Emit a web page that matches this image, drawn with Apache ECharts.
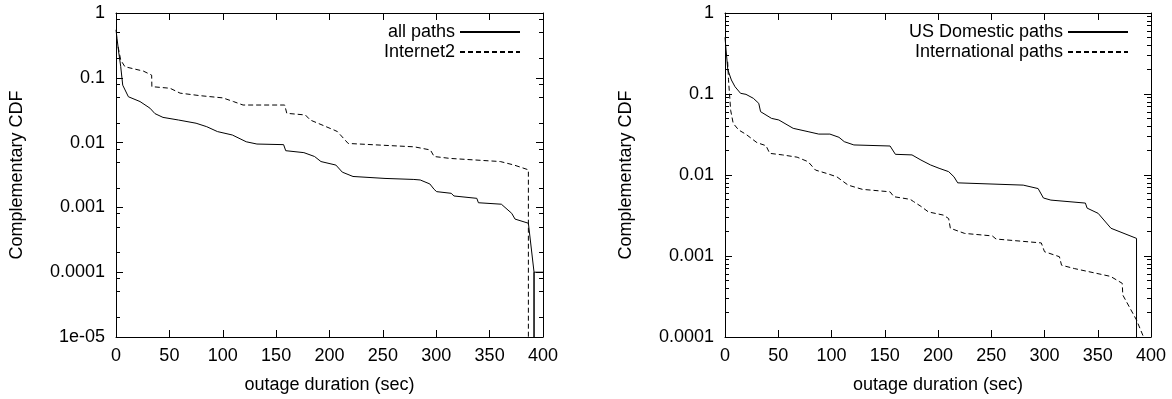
<!DOCTYPE html>
<html>
<head>
<meta charset="utf-8">
<script src="https://cdn.jsdelivr.net/npm/echarts@6/dist/echarts.min.js"></script>
<style>
html,body{margin:0;padding:0;background:#fff;}
#chart{width:1172px;height:399px;}
</style>
</head>
<body>
<div id="chart"></div>
<script>
// ---- Data ----
const xTicks = [0, 50, 100, 150, 200, 250, 300, 350, 400];

const leftYTickValues = [1e-5, 1e-4, 1e-3, 0.01, 0.1, 1];
const leftYTickLabels = ['1e-05', '0.0001', '0.001', '0.01', '0.1', '1'];
const rightYTickValues = [1e-4, 1e-3, 0.01, 0.1, 1];
const rightYTickLabels = ['0.0001', '0.001', '0.01', '0.1', '1'];
const leftMinorMultipliers = [2, 5, 8];
const rightMinorMultipliers = [2, 3, 4, 5, 6, 7, 8, 9];

const allPaths = [[0,0.55],[1,0.4],[2.5,0.25],[4.4,0.15],[6.3,0.077],[11.6,0.051],[22.5,0.043],[31.8,0.034],[36.5,0.028],[44,0.0245],[58.6,0.0223],[75,0.0199],[85,0.0176],[95,0.0148],[109,0.0131],[122,0.0103],[132,0.0095],[157,0.0093],[159,0.0075],[176,0.0070],[186,0.0061],[192,0.0051],[206,0.0045],[212,0.0035],[222,0.0030],[252,0.0028],[279,0.0027],[285,0.00265],[294,0.0023],[298,0.0019],[300.4,0.00175],[314,0.00165],[316.6,0.0015],[338,0.00138],[339.5,0.00118],[361,0.00112],[370.7,0.00081],[373.8,0.00066],[386.3,0.00057],[391.6,0.0001],[391.6,1e-6],[391.6,0.0001],[400,0.0001]];

const internet2 = [[2,0.3],[4.4,0.188],[8.4,0.148],[25.6,0.127],[33.4,0.110],[33.6,0.073],[50.6,0.069],[60,0.058],[78.7,0.053],[100,0.049],[110,0.043],[119,0.038],[158,0.038],[160,0.0283],[177.4,0.0267],[182,0.0223],[204,0.0157],[207.4,0.0148],[217.5,0.0097],[279.5,0.0086],[294.5,0.0077],[298,0.0061],[313,0.0057],[360,0.0051],[373,0.0045],[386.3,0.0038],[386.3,1e-6]];

const usDomestic = [[0,0.5],[1,0.35],[2.6,0.2],[6,0.149],[9.4,0.123],[14.6,0.102],[19.7,0.099],[26.6,0.0885],[31.7,0.0767],[33.4,0.0605],[43.7,0.050],[50.5,0.0478],[64,0.0377],[78,0.0343],[88,0.032],[98.5,0.032],[107,0.0292],[112,0.0258],[121,0.0235],[155,0.0228],[160,0.018],[175.6,0.0177],[184,0.0153],[193,0.0133],[201,0.0121],[210,0.011],[215,0.0095],[218.5,0.008],[280,0.0075],[294,0.0068],[299,0.0052],[306,0.0049],[338.4,0.0045],[340,0.0039],[350.4,0.00336],[362.4,0.0022],[386.4,0.00165],[386.4,1e-6]];

const international = [[2.5,0.25],[3.3,0.15],[5.3,0.063],[7.7,0.0434],[12.8,0.036],[19.7,0.0318],[30,0.0251],[38.5,0.023],[42,0.0185],[54,0.0177],[67.7,0.0166],[78,0.0146],[85,0.0115],[95,0.0105],[105,0.0095],[115.6,0.0075],[129,0.00665],[155,0.0062],[158.5,0.0054],[174,0.0050],[177,0.0047],[184,0.0041],[191,0.0035],[205,0.0032],[210,0.0029],[211.6,0.0022],[225,0.0019],[251,0.00177],[254.5,0.00162],[297,0.00145],[300,0.00113],[314,0.00098],[316,0.00077],[328,0.0007],[362,0.00056],[373,0.00046],[373.5,0.00033],[386.4,0.000162],[393,0.0001],[396,0.00008]];

// ---- Helpers ----
const FONT = "'Liberation Sans', Arial, Helvetica, sans-serif";
const BLACK = '#000';

function minorExps(minExp, mults) {
  const out = [];
  for (let e = minExp; e < 0; e++) {
    mults.forEach(m => out.push(Math.log10(m * Math.pow(10, e))));
  }
  return out;
}
function logLabel(values, labels) {
  return function (v) {
    let best = 0, bd = Infinity;
    values.forEach((t, i) => {
      const d = Math.abs(Math.log10(t) - Math.log10(v));
      if (d < bd) { bd = d; best = i; }
    });
    return bd < 0.01 ? labels[best] : '';
  };
}

const axisLine = { show: true, onZero: false, lineStyle: { color: BLACK, width: 1 } };
const noLine = { show: false, onZero: false };

function xAxesFor(g) {
  return [
    { type: 'value', gridIndex: g, min: xTicks[0], max: xTicks[xTicks.length - 1], interval: 50, position: 'bottom',
      axisLine, axisTick: { inside: true, length: 7, lineStyle: { color: BLACK } },
      axisLabel: { fontSize: 18, color: BLACK, margin: 10, fontFamily: FONT },
      splitLine: { show: false },
      name: 'outage duration (sec)', nameLocation: 'middle', nameGap: 39,
      nameTextStyle: { fontSize: 18, color: BLACK, fontFamily: FONT } },
    { type: 'value', gridIndex: g, min: xTicks[0], max: xTicks[xTicks.length - 1], interval: 50, position: 'top',
      axisLine, axisTick: { inside: true, length: 7, lineStyle: { color: BLACK } },
      axisLabel: { show: false }, splitLine: { show: false } }
  ];
}
function yAxesFor(g, vals, labels, mults) {
  const minV = vals[0], maxV = vals[vals.length - 1];
  const minE = Math.round(Math.log10(minV));
  const minors = minorExps(minE, mults);
  return [
    { type: 'log', logBase: 10, gridIndex: g, min: minV, max: maxV, splitNumber: vals.length - 1, position: 'left',
      axisLine, axisTick: { inside: true, length: 7, lineStyle: { color: BLACK } },
      axisLabel: { fontSize: 18, color: BLACK, margin: 11, fontFamily: FONT, formatter: logLabel(vals, labels) },
      splitLine: { show: false }, minorTick: { show: false },
      name: 'Complementary CDF', nameLocation: 'middle', nameGap: 90, nameRotate: 90,
      nameTextStyle: { fontSize: 18, color: BLACK, fontFamily: FONT } },
    { type: 'log', logBase: 10, gridIndex: g, min: minV, max: maxV, splitNumber: vals.length - 1, position: 'right',
      axisLine, axisTick: { inside: true, length: 7, lineStyle: { color: BLACK } },
      axisLabel: { show: false }, splitLine: { show: false }, minorTick: { show: false } },
    { type: 'value', gridIndex: g, min: minE, max: 0, position: 'left',
      axisLine: noLine, axisTick: { inside: true, length: 4, customValues: minors, lineStyle: { color: BLACK } },
      axisLabel: { show: false }, splitLine: { show: false } },
    { type: 'value', gridIndex: g, min: minE, max: 0, position: 'right',
      axisLine: noLine, axisTick: { inside: true, length: 4, customValues: minors, lineStyle: { color: BLACK } },
      axisLabel: { show: false }, splitLine: { show: false } }
  ];
}
function lineSeries(name, data, xi, yi, dashed) {
  return { name, type: 'line', data, xAxisIndex: xi, yAxisIndex: yi, symbol: 'none', showSymbol: false,
    clip: true, animation: false, silent: true,
    lineStyle: { color: BLACK, width: 1, type: dashed ? [5, 3] : 'solid' },
    itemStyle: { color: BLACK } };
}
function legendFor(names, right) {
  return { data: names, orient: 'vertical', right, top: 22, align: 'right', padding: 0,
    itemWidth: 60, itemHeight: 14, itemGap: 0, selectedMode: false,
    itemStyle: { opacity: 0, color: 'rgba(0,0,0,0)', borderWidth: 0 },
    textStyle: { fontSize: 18, lineHeight: 20, color: BLACK, fontFamily: FONT } };
}

const chart = echarts.init(document.getElementById('chart'), null, { renderer: 'canvas' });
chart.setOption({
  animation: false,
  backgroundColor: '#fff',
  textStyle: { fontFamily: FONT, color: BLACK },
  grid: [
    { left: 116, top: 13, width: 427, height: 324, containLabel: false, outerBoundsMode: 'none' },
    { left: 725, top: 13, width: 426, height: 324, containLabel: false, outerBoundsMode: 'none' }
  ],
  xAxis: [...xAxesFor(0), ...xAxesFor(1)],
  yAxis: [
    ...yAxesFor(0, leftYTickValues, leftYTickLabels, leftMinorMultipliers),
    ...yAxesFor(1, rightYTickValues, rightYTickLabels, rightMinorMultipliers)
  ],
  legend: [
    legendFor(['all paths', 'Internet2'], 651),
    legendFor(['US Domestic paths', 'International paths'], 43)
  ],
  series: [
    lineSeries('all paths', allPaths, 0, 0, false),
    lineSeries('Internet2', internet2, 0, 0, true),
    lineSeries('US Domestic paths', usDomestic, 2, 4, false),
    lineSeries('International paths', international, 2, 4, true)
  ]
});
</script>
</body>
</html>
